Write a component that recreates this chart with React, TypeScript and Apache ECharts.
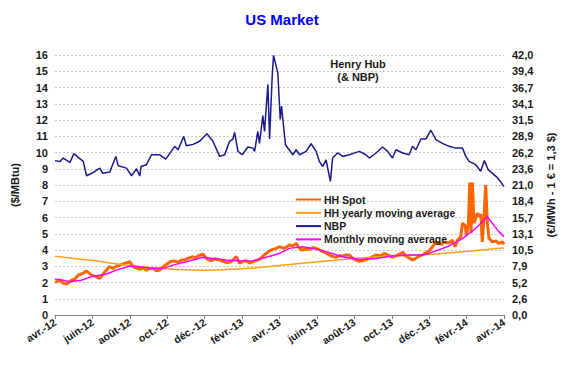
import React, { useEffect, useRef } from "react";
import * as echarts from "echarts";

// x values are months since April 2012 (0 = avr.-12, 24 = avr.-14)
const xLabels = ["avr.-12", "juin-12", "août-12", "oct.-12", "déc.-12", "févr.-13", "avr.-13", "juin-13", "août-13", "oct.-13", "déc.-13", "févr.-14", "avr.-14"];
const rightLabels = ["0,0", "2,6", "5,2", "7,9", "10,5", "13,1", "15,7", "18,4", "21,0", "23,6", "26,2", "28,9", "31,5", "34,1", "36,7", "39,4", "42,0"];

const hhSpot: [number, number][] = [
  [0, 2.0], [0.27, 2.14], [0.45, 1.95], [0.62, 1.9], [0.89, 2.14], [1.05, 2.2], [1.24, 2.45], [1.45, 2.55], [1.69, 2.7],
  [1.96, 2.45], [2.22, 2.35], [2.4, 2.25], [2.67, 2.66], [2.9, 2.97], [3.11, 2.87], [3.3, 3.0], [3.47, 3.07], [3.73, 3.18],
  [4.0, 3.28], [4.18, 2.97], [4.35, 2.9], [4.53, 2.8], [4.7, 2.9], [4.89, 2.76], [5.05, 2.85], [5.24, 2.87], [5.42, 2.72],
  [5.6, 2.76], [5.78, 2.97], [6.04, 3.18], [6.2, 3.3], [6.4, 3.32], [6.58, 3.25], [6.76, 3.38], [6.95, 3.4], [7.11, 3.48],
  [7.38, 3.59], [7.5, 3.5], [7.64, 3.63], [7.91, 3.75], [8.09, 3.48], [8.2, 3.4], [8.36, 3.34], [8.55, 3.45], [8.8, 3.38],
  [9.0, 3.3], [9.16, 3.22], [9.42, 3.28], [9.69, 3.59], [9.87, 3.18], [10.05, 3.3], [10.22, 3.34], [10.4, 3.2], [10.58, 3.28],
  [10.75, 3.35], [10.93, 3.42], [11.1, 3.6], [11.29, 3.79], [11.47, 3.95], [11.64, 4.04], [11.82, 4.1], [12.0, 4.2],
  [12.25, 4.1], [12.53, 4.31], [12.7, 4.25], [12.89, 4.41], [13.0, 4.2], [13.16, 4.0], [13.4, 4.05], [13.6, 4.04],
  [13.8, 4.15], [13.96, 4.1], [14.15, 4.0], [14.31, 3.9], [14.5, 3.8], [14.67, 3.69], [14.85, 3.6], [15.02, 3.55],
  [15.2, 3.65], [15.38, 3.63], [15.55, 3.7], [15.73, 3.69], [15.9, 3.5], [16.09, 3.38], [16.25, 3.3], [16.44, 3.34],
  [16.6, 3.4], [16.8, 3.48], [17.0, 3.6], [17.16, 3.69], [17.4, 3.65], [17.6, 3.79], [17.8, 3.7], [18.04, 3.55],
  [18.25, 3.65], [18.49, 3.79], [18.6, 3.85], [18.76, 3.63], [18.95, 3.5], [19.11, 3.38], [19.3, 3.5], [19.47, 3.63],
  [19.65, 3.7], [19.82, 3.84], [20.0, 3.95], [20.18, 4.2], [20.36, 4.5], [20.53, 4.4], [20.65, 4.35], [20.8, 4.5],
  [20.95, 4.45], [21.07, 4.45], [21.24, 4.6], [21.39, 4.2], [21.51, 4.6], [21.69, 4.82], [21.78, 5.65], [21.92, 5.5],
  [21.99, 4.9], [22.1, 5.65], [22.17, 8.15], [22.24, 5.03], [22.31, 8.15], [22.4, 5.65], [22.58, 6.26], [22.67, 6.06],
  [22.76, 6.2], [22.84, 4.5], [22.93, 6.0], [23.02, 8.0], [23.11, 5.65], [23.2, 4.72], [23.38, 4.5], [23.56, 4.55],
  [23.73, 4.4], [23.91, 4.5], [24, 4.35],
];

const hhYearly: [number, number][] = [
  [0, 3.62], [2, 3.35], [4, 3.05], [5.6, 2.87], [6.5, 2.8], [8, 2.76], [9.2, 2.8], [10.9, 2.92], [12, 3.05],
  [14.1, 3.28], [16.8, 3.55], [19.5, 3.7], [20, 3.72], [22.1, 3.92], [23.2, 4.05], [24, 4.12],
];

const nbp: [number, number][] = [
  [0, 9.5], [0.27, 9.45], [0.44, 9.66], [0.8, 9.39], [1.01, 9.93], [1.24, 9.7], [1.51, 9.45], [1.69, 8.57], [2.04, 8.77],
  [2.4, 9.04], [2.54, 8.73], [2.93, 8.8], [3.25, 9.76], [3.38, 9.18], [3.82, 9.04], [4.09, 8.57], [4.36, 9.0], [4.53, 8.55],
  [4.6, 9.14], [4.89, 9.25], [5.16, 9.86], [5.6, 9.86], [5.92, 9.59], [6.4, 10.38], [6.58, 10.17], [6.88, 10.99],
  [7.02, 10.42], [7.38, 10.5], [7.73, 10.69], [8.12, 11.16], [8.44, 10.69], [8.8, 9.76], [9.07, 9.86], [9.33, 10.69],
  [9.51, 10.83], [9.6, 11.24], [9.78, 10.07], [10.01, 9.86], [10.31, 10.34], [10.58, 10.27], [10.67, 10.07], [10.84, 11.3],
  [10.93, 10.56], [11.11, 12.27], [11.2, 11.3], [11.38, 14.19], [11.47, 10.83], [11.61, 14.7], [11.68, 15.98],
  [11.91, 14.9], [12.04, 12.03], [12.11, 12.85], [12.18, 12.03], [12.32, 10.48], [12.71, 9.86], [12.89, 10.17],
  [13.07, 9.86], [13.42, 10.07], [13.69, 10.54], [13.96, 10.07], [14.13, 9.45], [14.31, 9.14], [14.49, 9.55],
  [14.63, 8.73], [14.72, 8.22], [14.84, 9.66], [15.11, 9.97], [15.38, 9.76], [15.73, 9.86], [16.27, 10.07], [16.62, 9.86],
  [16.8, 9.66], [17.16, 9.97], [17.51, 10.34], [17.78, 10.07], [18.04, 9.66], [18.22, 10.17], [18.58, 9.97], [18.93, 9.86],
  [19.11, 10.38], [19.29, 10.17], [19.56, 10.83], [19.82, 10.83], [20.09, 11.37], [20.36, 10.79], [20.71, 10.56],
  [21.07, 10.38], [21.42, 10.27], [21.78, 10.27], [21.96, 9.76], [22.13, 9.45], [22.49, 9.25], [22.75, 8.85],
  [22.95, 9.5], [23.15, 8.95], [23.4, 8.7], [23.65, 8.45], [23.85, 8.15], [24, 7.9],
];

const monthlyAvg: [number, number][] = [
  [0, 2.2], [0.27, 2.19], [0.8, 2.04], [1.4, 2.14], [2.04, 2.39], [2.76, 2.52], [3.29, 2.76], [4.0, 3.01], [4.53, 2.97],
  [5.24, 2.87], [5.78, 2.87], [6.31, 3.07], [7.02, 3.28], [7.91, 3.55], [8.44, 3.48], [9.16, 3.38], [9.87, 3.32],
  [10.58, 3.34], [11.29, 3.55], [12.0, 3.79], [12.53, 4.1], [13.24, 4.2], [13.78, 4.1], [14.49, 3.9], [15.38, 3.59],
  [16.27, 3.42], [17.16, 3.48], [18.04, 3.63], [18.93, 3.69], [19.64, 3.69], [20.0, 3.79], [21.07, 4.25], [21.78, 4.7],
  [22.49, 5.34], [23.11, 6.05], [23.47, 5.5], [23.73, 5.13], [24, 4.82],
];

const FONT = "'Liberation Sans', Arial, sans-serif";

export default function App() {
  const ref = useRef<HTMLDivElement>(null);
  useEffect(() => {
    if (!ref.current) return;
    const chart = echarts.init(ref.current, undefined, { renderer: "svg" });
    const labelStyle = { color: "#1a1a1a", fontWeight: "bold" as const, fontFamily: FONT, fontSize: 11 };
    chart.setOption({
      animation: false,
      backgroundColor: "#ffffff",
      textStyle: { fontFamily: FONT },
      title: {
        text: "US Market",
        left: "center",
        top: 7,
        textStyle: { color: "#0000ff", fontSize: 15, fontWeight: "bold", fontFamily: FONT },
      },
      legend: {
        orient: "vertical",
        left: 290,
        top: 189,
        itemWidth: 25,
        itemHeight: 10,
        itemGap: 2.3,
        itemStyle: { opacity: 0 },
        textStyle: { color: "#1a1a1a", fontSize: 10.5, fontWeight: "bold", fontFamily: FONT, padding: [0, 0, 0, -2] },
        data: ["HH Spot", "HH yearly moving average", "NBP", "Monthly moving average"],
      },
      graphic: [
        {
          type: "text",
          x: 358,
          y: 57,
          style: {
            text: "Henry Hub\n(& NBP)",
            align: "center",
            verticalAlign: "top",
            fontSize: 11,
            lineHeight: 13,
            fontWeight: "bold",
            fontFamily: FONT,
            fill: "#1a1a1a",
          },
        },
      ],
      grid: { left: 55, right: 59, top: 55, bottom: 51, containLabel: false },
      xAxis: {
        type: "value",
        min: 0,
        max: 24,
        interval: 2,
        axisLine: { show: true, lineStyle: { color: "#808080", width: 1 } },
        axisTick: { show: true, length: 4, lineStyle: { color: "#808080" } },
        splitLine: { show: false },
        axisLabel: {
          ...labelStyle,
          fontSize: 10.5,
          rotate: 33,
          margin: 6,
          formatter: (v: number) => xLabels[Math.round(v / 2)] ?? "",
        },
      },
      yAxis: [
        {
          type: "value",
          min: 0,
          max: 16,
          interval: 1,
          name: "($/MBtu)",
          nameLocation: "middle",
          nameGap: 35,
          nameRotate: 90,
          nameTextStyle: { ...labelStyle },
          axisLine: { show: false },
          axisTick: { show: false },
          axisLabel: { ...labelStyle, margin: 7 },
          splitLine: { show: true, lineStyle: { color: "#c8c8c8", type: [2, 2], width: 1 } },
        },
        {
          type: "value",
          min: 0,
          max: 42,
          interval: 2.625,
          position: "right",
          name: "(€/MWh - 1 € = 1,3 $)",
          nameLocation: "middle",
          nameGap: 41,
          nameRotate: 90,
          nameTextStyle: { ...labelStyle },
          axisLine: { show: false },
          axisTick: { show: false },
          axisLabel: {
            ...labelStyle,
            margin: 8,
            formatter: (v: number) => rightLabels[Math.round(v / 2.625)] ?? "",
          },
          splitLine: { show: false },
        },
      ],
      series: [
        {
          name: "HH Spot",
          type: "line",
          data: hhSpot,
          symbol: "none",
          lineStyle: { color: "#ff6600", width: 3 },
          itemStyle: { color: "#ff6600" },
        },
        {
          name: "HH yearly moving average",
          type: "line",
          data: hhYearly,
          symbol: "none",
          smooth: 0.3,
          lineStyle: { color: "#ff9f1a", width: 1.5 },
          itemStyle: { color: "#ff9f1a" },
        },
        {
          name: "NBP",
          type: "line",
          data: nbp,
          symbol: "none",
          lineStyle: { color: "#1a1a8c", width: 1.5 },
          itemStyle: { color: "#1a1a8c" },
        },
        {
          name: "Monthly moving average",
          type: "line",
          data: monthlyAvg,
          symbol: "none",
          lineStyle: { color: "#ff00ff", width: 1.5 },
          itemStyle: { color: "#ff00ff" },
        },
      ],
    });
    return () => chart.dispose();
  }, []);
  return <div ref={ref} style={{ position: "fixed", left: 0, top: 0, width: 564, height: 366 }} />;
}
